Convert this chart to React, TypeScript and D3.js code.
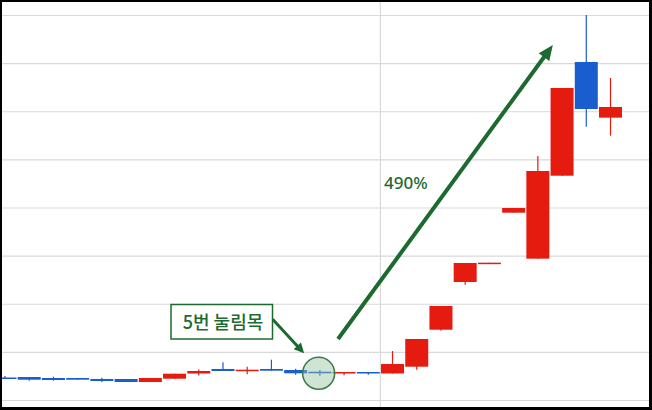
import React from "react";
import * as d3 from "d3";

const W = 652;
const H = 410;

// day index for each candle
const days = d3.range(26);
const opens = [1478, 1488, 1468, 1468, 1447, 1447, 1384, 1453, 1561, 1655, 1619, 1655, 1634, 1598, 1565, 1592, 1561, 1702, 2471, 3462, 3836, 4902, 3947, 5671, 8034, 6877];
const highs = [1509, 1488, 1495, 1468, 1474, 1447, 1468, 1557, 1644, 1794, 1702, 1848, 1661, 1634, 1592, 1592, 2029, 2278, 2964, 3857, 3864, 5000, 6081, 7494, 9011, 7702];
const lows = [1457, 1411, 1411, 1432, 1384, 1384, 1384, 1453, 1520, 1613, 1544, 1619, 1536, 1515, 1524, 1536, 1561, 1640, 2450, 3406, 3836, 4902, 3947, 5671, 6690, 6503];
const closes = [1457, 1432, 1426, 1432, 1405, 1384, 1468, 1557, 1613, 1613, 1640, 1619, 1565, 1565, 1592, 1565, 1758, 2278, 2964, 3857, 3864, 5000, 5769, 7494, 7057, 7099];
const yTicks = [1000, 2000, 3000, 4000, 5000, 6000, 7000, 8000, 9000];
const monthBreakAfter = 15;

const pullbackLabel = "5번 눌림목";
const gainLabel = "490%";

const RED = "#e61b0f";
const BLUE = "#1a5dcf";
const GREEN = "#1d6a30";

export default function App() {
  const x = d3.scaleLinear().domain([0, 25]).range([5, 610.5]);
  const y = d3.scaleLinear().domain([1000, 9000]).range([400.5, 15.5]);
  const bw = 23;

  const candles = days.map((d, i) => {
    const o = opens[i], c = closes[i], h = highs[i], l = lows[i];
    const up = c >= o;
    const top = y(Math.max(o, c));
    const bot = y(Math.min(o, c));
    return { i, cx: x(d), top, bh: Math.max(1.5, bot - top), hy: y(h), ly: y(l), color: up ? RED : BLUE };
  });

  const vx = (x(monthBreakAfter) + x(monthBreakAfter + 1)) / 2;

  // annotations (in data space)
  const bigA = { x1: x(13.75), y1: y(2278), x2: x(22.62), y2: y(8387) };
  const smallA = { x1: x(11.05), y1: y(2687), x2: x(12.35), y2: y(1981) };
  const circ = { cx: x(12.95), cy: y(1565) };

  const arrow = (a: { x1: number; y1: number; x2: number; y2: number }, sw: number, hl: number, hw: number) => {
    const dx = a.x2 - a.x1, dy = a.y2 - a.y1;
    const len = Math.hypot(dx, dy);
    const ux = dx / len, uy = dy / len;
    const bx = a.x2 - ux * hl, by = a.y2 - uy * hl;
    const px = -uy, py = ux;
    const head = `M${a.x2},${a.y2} L${bx + px * hw / 2},${by + py * hw / 2} L${bx - px * hw / 2},${by - py * hw / 2} Z`;
    return (
      <g>
        <line x1={a.x1} y1={a.y1} x2={bx + ux * 2} y2={by + uy * 2} stroke={GREEN} strokeWidth={sw} />
        <path d={head} fill={GREEN} />
      </g>
    );
  };

  return (
    <svg width={W} height={H} style={{ position: "fixed", left: 0, top: 0, background: "#fff" }}>
      <rect x={0} y={0} width={W} height={H} fill="#fff" />
      {yTicks.map((t) => (
        <line key={t} x1={0} x2={W} y1={y(t)} y2={y(t)} stroke="#d9d9d9" strokeWidth={1.2} />
      ))}
      <line x1={vx} x2={vx} y1={0} y2={H} stroke="#d9d9d9" strokeWidth={1.2} />
      {candles.map((c) => (
        <g key={c.i}>
          <line x1={c.cx} x2={c.cx} y1={c.hy} y2={c.ly} stroke={c.color} strokeWidth={1.2} />
          <rect x={c.cx - bw / 2} y={c.top} width={bw} height={c.bh} fill={c.color} />
        </g>
      ))}
      {arrow(bigA, 4, 15, 13)}
      {arrow(smallA, 3, 10, 10)}
      <circle cx={circ.cx} cy={circ.cy} r={16} fill="rgba(150,195,160,0.45)" stroke="#3c7a4b" strokeWidth={1.5} />
      <rect x={171} y={304.5} width={101.5} height={34.5} fill="#fff" stroke={GREEN} strokeWidth={1.5} />
      <text x={223} y={328.5} textAnchor="middle" fontFamily="'Noto Sans CJK KR', 'Noto Sans', sans-serif" fontSize={18} fontWeight={500} fill={GREEN}>
        {pullbackLabel}
      </text>
      <text x={384} y={188.5} fontFamily="'Noto Sans', sans-serif" fontSize={17} fontWeight={500} fill={GREEN}>
        {gainLabel}
      </text>
      {/* frame */}
      <rect x={1} y={1} width={W - 2.5} height={H - 3} fill="none" stroke="#000" strokeWidth={2} />
      <rect x={W - 3} y={0} width={3} height={H} fill="#000" />
      <rect x={0} y={H - 3} width={W} height={3} fill="#000" />
    </svg>
  );
}
